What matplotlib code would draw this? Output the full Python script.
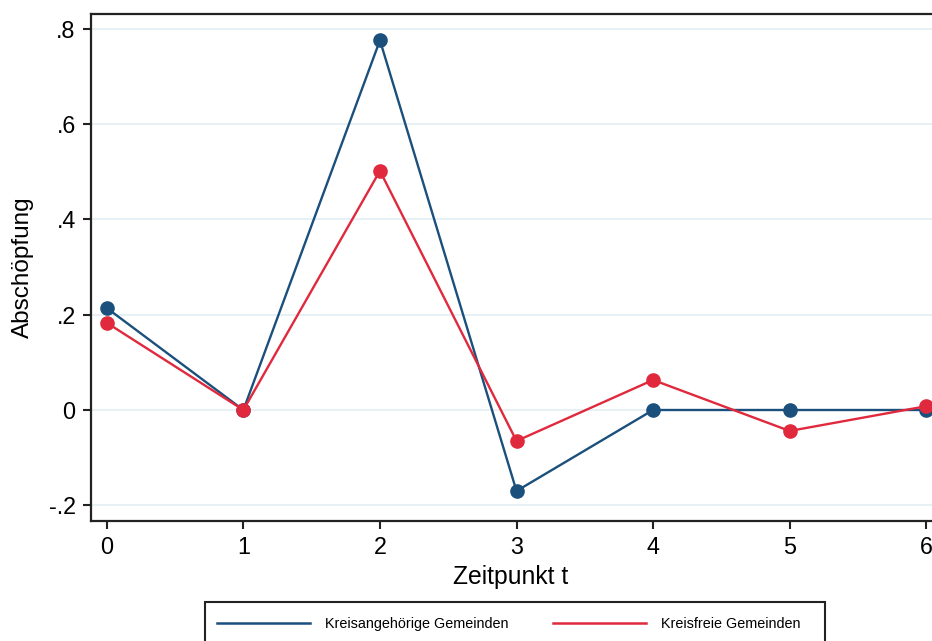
import matplotlib.pyplot as plt
from matplotlib.patches import Rectangle

plt.rcParams['font.family'] = ['Liberation Sans', 'DejaVu Sans']

# Data
zeitpunkt = [0, 1, 2, 3, 4, 5, 6]
kreisangehoerig = [0.214, 0.0, 0.776, -0.170, 0.0, 0.0, 0.0]
kreisfrei = [0.183, 0.0, 0.502, -0.065, 0.063, -0.044, 0.008]
y_ticks = [-0.2, 0.0, 0.2, 0.4, 0.6, 0.8]
y_ticklabels = ['-.2', '0', '.2', '.4', '.6', '.8']

blue = '#1b4f7c'
red = '#e0293d'

fig = plt.figure(figsize=(9.32, 6.41), dpi=100)
ax = fig.add_axes([0.0976, 0.1872, 0.905, 0.7908])

ax.plot(zeitpunkt, kreisangehoerig, color=blue, lw=1.7, marker='o', ms=9.5,
        label='Kreisangehörige Gemeinden', zorder=3)
ax.plot(zeitpunkt, kreisfrei, color=red, lw=1.7, marker='o', ms=9.5,
        label='Kreisfreie Gemeinden', zorder=4)

ax.set_xlim(-0.116, 6.06)
ax.set_ylim(-0.233, 0.831)
ax.set_xticks(zeitpunkt)
ax.set_yticks(y_ticks)
ax.set_yticklabels(y_ticklabels)

ax.grid(axis='y', color='#e3eff4', lw=1.2)
ax.set_axisbelow(True)

for side in ['left', 'bottom', 'top']:
    ax.spines[side].set_color('#222222')
    ax.spines[side].set_linewidth(1.6)
ax.spines['right'].set_visible(False)

ax.tick_params(axis='both', direction='out', length=6, width=1.5,
               color='#222222', labelsize=16.8, pad=5)

ax.set_xlabel('Zeitpunkt t', fontsize=17.8)
ax.set_ylabel('Abschöpfung', fontsize=17.5)
ax.xaxis.set_label_coords(0.498, -0.086)
ax.yaxis.set_label_coords(-0.068, 0.5)

# legend box (Stata style, wider than its contents)
fig.patches.append(Rectangle((0.22, -0.01), 0.665, 0.0708,
                             transform=fig.transFigure, fill=False,
                             edgecolor='#222222', lw=1.5))
leg = fig.legend(loc='center left', bbox_to_anchor=(0.2328, 0.0265),
                 ncol=2, fontsize=10.4, frameon=False, handlelength=6.44,
                 handletextpad=1.04, columnspacing=3.1, borderpad=0,
                 borderaxespad=0)
for h in leg.get_lines():
    h.set_marker('')
    h.set_linewidth(1.8)

fig.savefig('out.png', dpi=100)
